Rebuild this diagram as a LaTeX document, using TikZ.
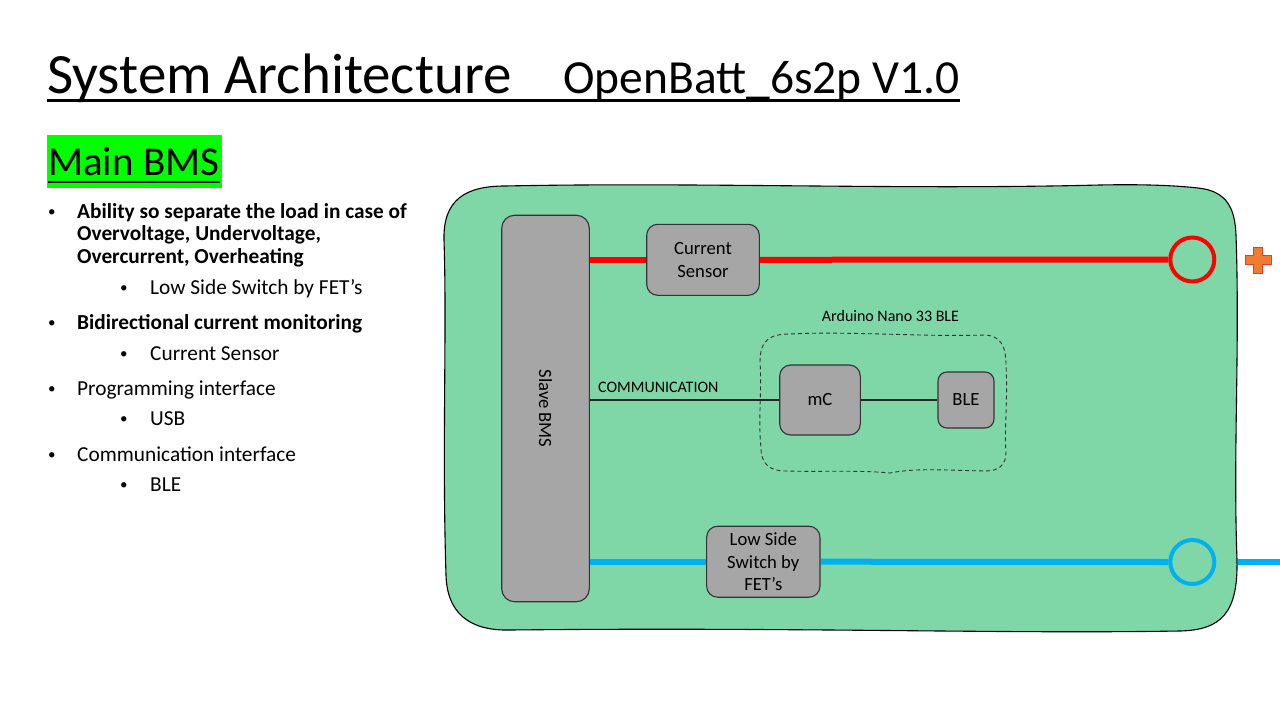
\documentclass[tikz,border=0pt]{standalone}
\usepackage{fontspec}
\setmainfont{Carlito}
\usetikzlibrary{calc}
\definecolor{boardgreen}{RGB}{127,214,166}
\definecolor{boxgray}{RGB}{166,166,166}
\definecolor{hilite}{RGB}{0,255,0}
\definecolor{negblue}{RGB}{0,176,240}
\definecolor{plusorange}{RGB}{237,125,49}
\definecolor{plusedge}{RGB}{235,60,40}
\pgfdeclarelayer{board}
\pgfdeclarelayer{wires}
\pgfsetlayers{board,wires,main}

\begin{document}
\begin{tikzpicture}[x=1pt,y=-1pt,
  blk/.style={draw=black!80, line width=1.1pt, fill=boxgray, rounded corners=11pt,
    inner sep=0pt, align=center, font=\fontsize{18.67}{22.5}\selectfont},
  posline/.style={red, line width=6pt},
  negline/.style={negblue, line width=6pt},
  sigline/.style={black!85, line width=1.6pt},
  terminal/.style={circle, draw=#1, line width=4pt, inner sep=0pt, minimum size=44pt},
  txt/.style={inner sep=0pt, anchor=base west},
  dot/.style={txt, font=\fontsize{15}{18}\selectfont},
  bodytext/.style={txt, font=\fontsize{21.33}{24}\selectfont},
  boldtext/.style={txt, font=\fontsize{21.33}{24}\selectfont\bfseries},
  smalltext/.style={inner sep=0pt, font=\fontsize{16}{18}\selectfont},
]
\useasboundingbox (0,0) rectangle (1280,720);

% ---------- heading ----------
\node[txt, font=\fontsize{57}{60}\selectfont] (title) at (47,93) {System Architecture};
\node[txt, font=\fontsize{47.5}{50}\selectfont] (subtitle) at (563,93) {OpenBatt\_6s2p V1.0};
\draw[line width=3pt] ($(title.base west)+(0,7)$) -- ($(subtitle.base east)+(0,7)$);

% ---------- Main BMS heading ----------
\begin{pgfonlayer}{board}
\fill[hilite] (47,135) rectangle (222,188);
\end{pgfonlayer}
\node[txt, font=\fontsize{41}{44}\selectfont] (mainbms) at (48,175) {Main BMS};
\draw[line width=2.5pt] ($(mainbms.base west)+(0,7)$) -- ($(mainbms.base east)+(0,7)$);

% ---------- feature list ----------
\node[dot] (d1) at (48,216.5) {•};
\node[boldtext] (l1a) at (77,218.3) {Ability so separate the load in case of};
\node[boldtext] (l1b) at (77,240.7) {Overvoltage, Undervoltage,};
\node[boldtext] (l1c) at (77,263.3) {Overcurrent, Overheating};
\node[dot] (d1s) at (120,292.2) {•};
\node[bodytext] (l1s) at (150,294) {Low Side Switch by FET’s};

\node[dot] (d2) at (48,327.5) {•};
\node[boldtext] (l2) at (77,329.3) {Bidirectional current monitoring};
\node[dot] (d2s) at (120,358.2) {•};
\node[bodytext] (l2s) at (150,360) {Current Sensor};

\node[dot] (d3) at (48,393.9) {•};
\node[bodytext] (l3) at (77,395.7) {Programming interface};
\node[dot] (d3s) at (120,423.9) {•};
\node[bodytext] (l3s) at (150,425.7) {USB};

\node[dot] (d4) at (48,459.9) {•};
\node[bodytext] (l4) at (77,461.7) {Communication interface};
\node[dot] (d4s) at (120,489.9) {•};
\node[bodytext] (l4s) at (150,491.7) {BLE};

% ---------- battery board outline (hand drawn) ----------
\begin{pgfonlayer}{board}
\path[draw=black, line width=1.1pt, fill=boardgreen]
  (444,240) .. controls (443,200) and (465,186) .. (505,186)
  .. controls (700,182) and (900,190) .. (1100,185)
  .. controls (1150,184) and (1180,186) .. (1198,188)
  .. controls (1228,191) and (1235,210) .. (1236,235)
  .. controls (1240,350) and (1233,450) .. (1237,560)
  .. controls (1238,612) and (1222,630) .. (1180,631)
  .. controls (1000,634) and (800,627) .. (510,630)
  .. controls (468,631) and (447,612) .. (446,575)
  .. controls (442,450) and (447,330) .. cycle;

% ---------- Arduino module outline (dashed) ----------
\path[draw=black!80, line width=0.9pt, dash pattern=on 4pt off 3pt]
  (760,362) .. controls (760,340) and (770,334) .. (790,334)
  .. controls (850,331) and (920,337) .. (985,335)
  .. controls (1000,336) and (1006,345) .. (1006,365)
  .. controls (1008,400) and (1004,430) .. (1006,452)
  .. controls (1006,466) and (998,471) .. (985,471)
  .. controls (940,470) and (915,468) .. (890,473)
  .. controls (860,470) and (820,472) .. (785,471)
  .. controls (768,471) and (761,462) .. (761,448)
  .. controls (758,420) and (762,390) .. cycle;
\end{pgfonlayer}

% ---------- blocks ----------
\node[blk, rounded corners=13pt, minimum width=87.6pt, minimum height=386.5pt] (bms)
  at (545.5,408.5) {\rotatebox{-90}{Slave BMS}};
\node[blk, minimum width=112.6pt, minimum height=71pt] (cs) at (703,259.8) {Current\\Sensor};
\node[blk, minimum width=113.3pt, minimum height=71pt] (lss) at (763.3,561.7) {Low Side\\Switch by\\FET’s};
\node[blk, minimum width=80.6pt, minimum height=70pt] (mc) at (820,400) {mC};
\node[blk, rounded corners=9pt, minimum width=56pt, minimum height=56pt] (ble) at (966,400) {BLE};

% ---------- terminals ----------
\node[terminal=red] (pos) at (1192.3,259.5) {};
\node[terminal=negblue] (neg) at (1192.3,562) {};
\coordinate (negstub) at (1238,562);
\coordinate (negend) at (1280,562);

% ---------- connections (kept under the blocks) ----------
\begin{pgfonlayer}{wires}
\draw[posline] (bms.east |- cs.west) -- (cs.west);
\draw[posline] (cs.east) -- (pos.west);
\draw[negline] (bms.east |- lss.west) -- (lss.west);
\draw[negline] (lss.east) -- (neg.west);
\draw[negline] (negstub) -- (negend);
\draw[sigline] (bms.east |- mc.west) -- (mc.west);
\draw[sigline] (mc.east) -- (ble.west);
\end{pgfonlayer}

% ---------- labels ----------
\node[smalltext, anchor=base west] (comm) at (598,392) {COMMUNICATION};
\node[smalltext, anchor=base] (ardu) at (890.5,321.7) {Arduino Nano 33 BLE};

% ---------- plus marker ----------
\path[draw=plusedge, line width=1pt, fill=plusorange]
  (1253.5,247) -- (1262.5,247) -- (1262.5,255.5) -- (1271,255.5) -- (1271,264.5)
  -- (1262.5,264.5) -- (1262.5,273) -- (1253.5,273) -- (1253.5,264.5)
  -- (1245,264.5) -- (1245,255.5) -- (1253.5,255.5) -- cycle;
\end{tikzpicture}
\end{document}
